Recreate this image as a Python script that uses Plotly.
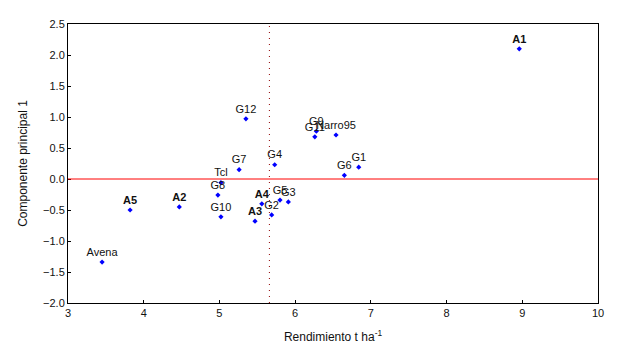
import plotly.graph_objects as go

names = ["A1", "A2", "A3", "A4", "A5", "Avena", "Tcl", "Narro95",
         "G1", "G2", "G3", "G4", "G5", "G6", "G7", "G8", "G9", "G10", "G11", "G12"]
rend = [8.96, 4.47, 5.47, 5.56, 3.82, 3.45, 5.02, 6.54,
        6.84, 5.69, 5.91, 5.73, 5.80, 6.65, 5.26, 4.98, 6.28, 5.02, 6.26, 5.35]
cp1 = [2.10, -0.45, -0.68, -0.40, -0.50, -1.34, -0.06, 0.71,
       0.19, -0.58, -0.37, 0.23, -0.34, 0.06, 0.15, -0.26, 0.77, -0.61, 0.68, 0.97]
mean_rend = 5.66

labels = [f"<b>{n}</b>" if n.startswith("A") and n != "Avena" else n for n in names]

fig = go.Figure()
fig.add_trace(go.Scatter(
    x=rend, y=cp1, mode="markers+text", text=labels, textposition="top center",
    textfont=dict(family="Liberation Sans, Arial", size=11, color="#111111"),
    marker=dict(symbol="diamond", size=4, color="#0000ff"),
    cliponaxis=False, showlegend=False))

fig.add_shape(type="line", x0=3, x1=10, y0=0, y1=0, xref="x", yref="y",
              line=dict(color="#ff0000", width=1))
fig.add_shape(type="line", x0=mean_rend, x1=mean_rend, y0=-2.0, y1=2.5, xref="x", yref="y",
              line=dict(color="#900000", width=1, dash="1px,5px"))

axis_common = dict(showline=True, linecolor="black", linewidth=1, mirror=True,
                   showgrid=False, zeroline=False, ticks="inside", ticklen=3,
                   tickcolor="black", automargin=False,
                   tickfont=dict(family="Liberation Sans, Arial", size=11, color="#111111"))
fig.update_xaxes(range=[3, 10], dtick=1, **axis_common,
                 title=dict(text="Rendimiento t ha<sup>-1</sup>", standoff=14,
                            font=dict(family="Liberation Sans, Arial", size=12, color="#111111")))
fig.update_yaxes(range=[-2.0, 2.5], dtick=0.5, tickformat=".1f", **axis_common,
                 title=dict(text="Componente principal 1", standoff=12,
                            font=dict(family="Liberation Sans, Arial", size=12, color="#111111")))
fig.update_layout(width=628, height=350, margin=dict(l=68, r=30, t=24, b=47),
                  plot_bgcolor="white", paper_bgcolor="white")
fig.write_html("out.html")
